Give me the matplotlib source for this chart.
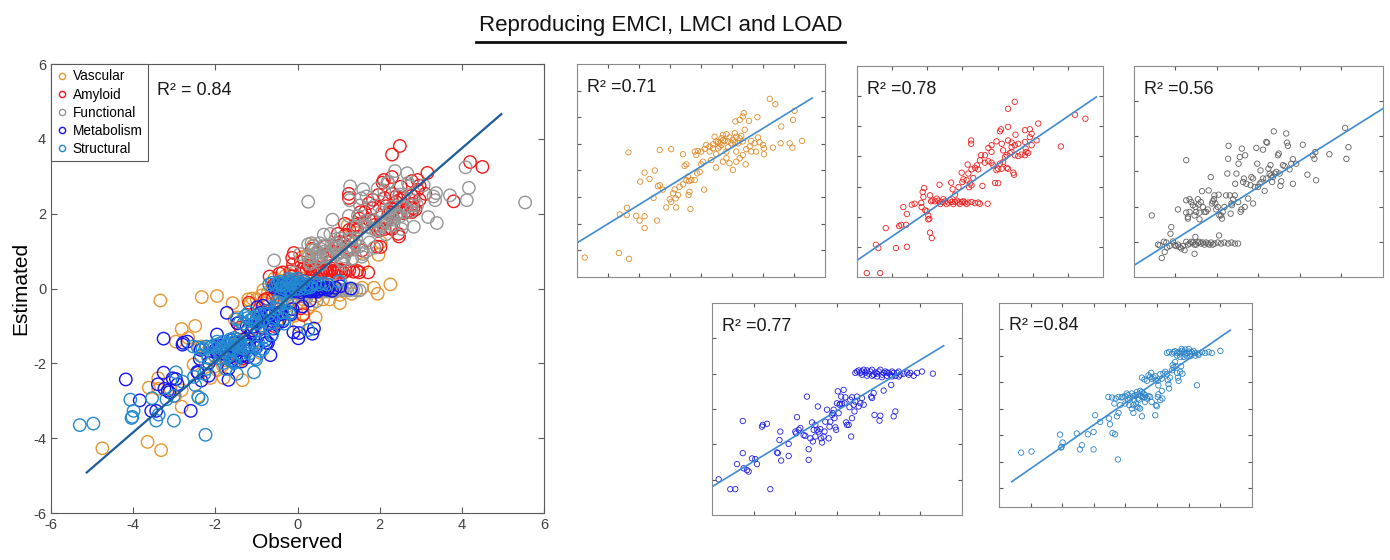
"""
Observed vs estimated biomarker values (EMCI, LMCI, LOAD):
pooled scatter on the left, one small panel per modality on the right.
"""

import numpy as np
import matplotlib.pyplot as plt
from matplotlib.lines import Line2D

plt.rcParams['font.family'] = ['Liberation Sans', 'DejaVu Sans']
plt.rcParams['axes.unicode_minus'] = False

# ---- data (observed, estimated) ----

vascular = np.array([
    (-4.75, -4.27), (-3.65, -4.10), (-3.32, -4.32), (-3.62, -2.65), (-3.39, -2.40), (-3.39, -2.68),
    (-3.09, -2.70), (-2.98, -2.88), (-2.82, -2.72), (-2.82, -3.16), (-2.42, -2.88), (-3.34, -0.32),
    (-2.96, -1.42), (-2.82, -1.08), (-2.66, -1.32), (-2.49, -1.00), (-2.39, -1.59), (-2.33, -1.55),
    (-2.53, -2.03), (-2.23, -1.72), (-2.12, -2.39), (-2.01, -2.08), (-1.96, -2.18), (-1.90, -1.86),
    (-1.85, -1.71), (-1.82, -2.05), (-1.80, -2.39), (-1.74, -1.92), (-1.69, -1.61), (-1.58, -1.52),
    (-1.34, -2.45), (-1.40, -1.92), (-1.37, -1.80), (-1.47, -1.36), (-1.42, -1.23), (-1.39, -1.40),
    (-1.31, -1.36), (-1.53, -0.83), (-1.47, -0.77), (-1.58, -0.39), (-1.96, -0.20), (-2.33, -0.23),
    (-1.20, -1.36), (-1.12, -1.11), (-1.04, -1.05), (-0.90, -1.72), (-0.99, -0.77), (-0.94, -0.67),
    (-1.15, -0.42), (-1.20, -0.29), (-1.10, -0.27), (-0.99, -0.29), (-0.88, -0.19), (-0.83, -0.04),
    (-0.72, -0.10), (-0.61, -0.02), (-0.51, 0.09), (-0.45, -0.17), (-0.40, 0.02), (-0.34, 0.21),
    (-0.29, 0.34), (-0.18, 0.36), (-0.24, 0.11), (-0.08, 0.24), (0.03, 0.15), (0.09, 0.06),
    (-0.72, -0.29), (-0.51, -0.39), (-0.67, -0.61), (-0.51, -0.89), (-0.29, -0.67), (-0.18, -0.54),
    (-0.08, -0.73), (0.03, -0.98), (0.14, -0.67), (0.25, -0.54), (0.14, -0.29), (0.35, -0.42),
    (0.44, -0.77), (0.46, -0.20), (0.57, -0.10), (0.62, 0.11), (0.73, 0.02), (0.78, -0.29),
    (0.84, 0.24), (0.89, 0.06), (1.00, -0.04), (1.03, -0.17), (0.14, 0.27), (0.25, 0.21),
    (0.35, 0.09), (0.41, 0.53), (0.11, 0.84), (0.25, 0.90), (0.35, 1.03), (0.38, 1.15),
    (0.55, 0.86), (0.82, 1.00), (1.22, 1.69), (1.40, 1.49), (1.59, 0.65), (2.02, 1.24),
    (1.97, 0.90), (1.57, 0.02), (1.32, -0.14), (1.86, 0.02), (1.95, -0.14), (2.26, 0.11),
    (1.03, -0.39), (0.62, -0.29), (-0.18, -0.29), (-0.56, 0.27), (-0.34, -0.04), (-0.45, 0.06),
    (-0.29, 0.15), (-0.13, 0.09), (-0.02, 0.02), (0.20, 0.02), (-0.61, -0.17), (-0.40, -0.10),
    (0.30, 0.30), (0.09, 0.40), (-0.13, -0.13),
])

amyloid = np.array([
    (-1.72, -1.87), (-1.34, -1.87), (-1.46, -0.93), (-1.39, -1.04), (-0.89, -1.04), (-0.58, -1.00),
    (-1.18, -0.38), (-0.80, -0.31), (-0.74, -0.27), (-0.60, -0.27), (-0.68, 0.32), (-0.58, 0.09),
    (-0.44, 0.40), (-0.36, 0.43), (-0.16, 0.32), (-0.17, 0.46), (-0.13, 0.82), (-0.09, 0.95),
    (-0.06, 0.21), (-0.01, 0.18), (0.03, 0.04), (0.06, -0.07), (0.03, -0.09), (0.08, -0.53),
    (0.13, -0.71), (-0.11, 0.65), (0.08, 0.71), (0.11, 0.51), (0.15, 0.54),
    (0.22, 0.51), (0.32, 0.53), (0.41, 0.49), (0.51, 0.51), (0.60, 0.47), (0.70, 0.49),
    (0.79, 0.49), (0.89, 0.47), (0.98, 0.49), (1.07, 0.47), (1.17, 0.47), (1.26, 0.49),
    (1.36, 0.45), (1.45, 0.47), (1.50, 0.43), (1.72, 0.43), (0.27, 0.60), (0.46, 0.58),
    (0.65, 0.55), (0.84, 0.53), (1.03, 0.51), (0.37, 0.42), (0.55, 0.42), (0.74, 0.42),
    (0.93, 0.42), (1.12, 0.42),
    (0.35, 1.06), (0.68, 1.13), (0.72, 0.91), (0.79, 0.73), (0.89, 0.98), (0.98, 1.46),
    (1.03, 1.24), (1.00, 1.15), (1.12, 1.21), (1.17, 1.43), (1.19, 0.98), (1.22, 1.10),
    (1.26, 1.04), (1.31, 1.28), (1.15, 1.73), (1.26, 1.57), (1.36, 1.62), (1.41, 1.70),
    (1.45, 1.57), (1.50, 1.87), (1.53, 2.04), (1.57, 1.02), (1.64, 1.79), (1.74, 1.84),
    (1.83, 1.79), (1.88, 1.70), (1.93, 1.12), (2.02, 1.11), (1.97, 1.54), (2.02, 1.59),
    (2.12, 1.59), (2.07, 1.76), (2.16, 1.81), (2.26, 1.62), (2.30, 1.59), (2.45, 1.46),
    (2.47, 1.39), (2.21, 1.98), (2.26, 2.04), (2.35, 2.11), (2.40, 2.15), (2.49, 2.04),
    (2.59, 2.01), (2.68, 2.06), (2.78, 2.04), (2.82, 2.15), (2.87, 2.11), (2.97, 2.37),
    (2.80, 2.26), (2.92, 2.64), (2.97, 2.75), (3.11, 2.53), (2.78, 2.48), (2.59, 2.42),
    (2.49, 2.37), (2.40, 2.46), (2.30, 2.53), (2.12, 2.42), (1.97, 2.50), (1.83, 2.37),
    (1.74, 2.28), (1.64, 2.04), (1.83, 2.15), (2.07, 2.83), (2.10, 2.90), (2.30, 2.98),
    (2.51, 2.72), (2.78, 2.87), (2.92, 2.90), (3.16, 3.09), (2.30, 3.58), (2.49, 3.81),
    (1.25, 2.53), (1.25, 2.42), (3.80, 2.33), (4.20, 3.38), (4.50, 3.25), (2.40, 2.31),
    (2.16, 2.20),
])

functional = np.array([
    (-0.57, 0.75), (-0.42, -0.08), (-0.38, -0.10), (-0.33, -0.46), (-0.28, 0.00), (-0.26, -0.29),
    (-0.22, -0.02), (-0.20, -0.16), (-0.14, -0.12), (-0.12, 0.23), (-0.10, 0.42), (-0.06, 0.01),
    (-0.02, -0.10), (0.02, -0.12), (0.06, -0.08), (0.10, -0.15), (0.14, -0.19), (0.18, -0.12),
    (0.22, -0.24), (0.26, 0.00), (0.30, -0.08), (0.34, -0.05), (0.38, 0.00), (0.42, -0.02),
    (0.46, -0.08), (0.46, -0.34), (0.48, 0.14), (0.50, -0.08), (0.54, -0.02), (0.58, 0.00),
    (0.62, -0.05), (0.66, -0.02), (0.70, -0.08), (0.74, -0.02), (0.78, -0.05), (0.82, -0.08),
    (0.86, -0.02), (0.90, -0.08), (0.94, -0.05), (1.02, -0.02), (1.05, 0.18), (1.10, -0.05),
    (1.18, -0.02), (1.27, -0.05), (1.35, -0.02), (1.43, -0.05), (1.51, -0.05),
    (0.06, 0.92), (0.26, 2.32), (0.26, 1.18), (0.26, 0.83), (0.30, 0.71), (0.30, 0.66),
    (0.34, 1.21), (0.34, 0.85), (0.38, 1.13), (0.42, 1.04), (0.46, 0.75), (0.48, 0.99),
    (0.50, 0.85), (0.54, 1.21), (0.56, 1.06), (0.58, 0.83), (0.58, 0.64), (0.61, 1.13),
    (0.64, 1.44), (0.66, 0.99), (0.70, 0.85), (0.74, 0.85), (0.78, 0.92), (0.80, 1.46),
    (0.85, 1.84), (0.88, 1.09), (0.90, 1.15), (0.93, 1.21), (0.94, 1.32), (0.96, 1.09),
    (0.98, 0.92), (1.02, 0.99), (1.04, 1.34), (1.06, 0.75), (1.10, 0.75), (1.12, 0.66),
    (1.14, 0.85), (1.18, 0.99), (1.22, 1.32), (1.25, 1.94), (1.27, 2.36), (1.28, 2.73),
    (1.31, 1.32), (1.33, 0.80), (1.35, 1.09), (1.36, 1.04), (1.39, 1.21), (1.43, 1.32),
    (1.44, 1.65), (1.47, 1.94), (1.51, 1.13), (1.52, 2.22), (1.55, 2.41), (1.57, 0.85),
    (1.59, 0.92), (1.60, 2.65), (1.63, 1.70), (1.65, 1.80), (1.67, 0.99), (1.68, 2.46),
    (1.71, 1.65), (1.75, 1.23), (1.81, 1.61), (1.83, 1.84), (1.87, 1.80), (1.87, 1.09),
    (1.91, 1.56), (1.95, 2.67), (1.97, 2.22), (1.99, 1.56), (2.03, 1.65), (2.05, 2.03),
    (2.07, 1.70), (2.11, 2.62), (2.11, 1.80), (2.15, 1.45), (2.19, 2.84), (2.19, 1.80),
    (2.21, 2.82), (2.24, 2.08), (2.27, 1.94), (2.29, 2.18), (2.31, 1.89), (2.33, 1.70),
    (2.35, 1.84), (2.37, 3.14), (2.39, 1.94), (2.43, 1.99), (2.47, 2.46), (2.49, 2.51),
    (2.51, 1.94), (2.53, 1.59), (2.55, 1.72), (2.59, 2.18), (2.63, 2.15), (2.67, 3.08),
    (2.69, 2.82), (2.71, 2.73), (2.75, 2.06), (2.79, 2.22), (2.83, 1.65), (2.83, 2.35),
    (2.91, 2.22), (3.07, 2.76), (3.18, 1.91), (3.31, 2.46), (3.35, 2.36), (3.37, 2.55),
    (3.39, 1.75), (3.71, 2.49), (4.09, 3.24), (4.12, 2.36), (4.17, 2.69), (5.54, 2.30),
])

metabolism = np.array([
    (-4.18, -2.43), (-3.84, -2.99), (-3.56, -3.27), (-3.44, -3.27), (-2.60, -3.27), (-3.40, -2.56),
    (-3.26, -1.34), (-3.26, -2.25), (-3.12, -2.77), (-3.24, -2.68), (-3.16, -2.73), (-3.04, -2.40),
    (-2.96, -2.42), (-2.92, -2.56), (-2.80, -1.50), (-2.78, -1.45), (-2.68, -1.42), (-2.44, -2.23),
    (-2.42, -2.25), (-2.38, -1.88), (-2.36, -1.64), (-2.34, -2.46), (-2.16, -1.99), (-2.16, -2.33),
    (-1.96, -1.23), (-2.00, -1.64), (-1.98, -1.69), (-1.88, -1.54), (-1.92, -1.59), (-1.80, -1.74),
    (-1.76, -1.76), (-1.72, -0.65), (-1.68, -2.14), (-1.68, -2.44), (-1.64, -1.83), (-1.60, -1.38),
    (-1.58, -1.92), (-1.56, -1.59), (-1.52, -1.78), (-1.52, -1.45), (-1.48, -1.59), (-1.46, -0.93),
    (-1.44, -1.64), (-1.40, -1.57), (-1.38, -1.83), (-1.36, -1.95), (-1.32, -1.78), (-1.30, -1.64),
    (-1.28, -1.36), (-1.24, -1.02), (-1.20, -1.83), (-1.18, -1.50), (-1.16, -1.36), (-1.12, -1.17),
    (-1.10, -1.12), (-1.08, -1.02), (-1.06, -1.26), (-1.04, -1.52), (-1.02, -1.59), (-1.00, -0.84),
    (-0.98, -0.50), (-0.96, -1.12), (-0.94, -0.88), (-0.92, -0.85), (-0.90, -0.65), (-0.88, -0.85),
    (-0.84, -0.46), (-0.82, -0.84), (-0.80, -0.67), (-0.78, -1.38), (-0.76, -1.45), (-0.72, -1.45),
    (-0.70, -0.95), (-0.68, -0.74), (-0.66, -1.78), (-0.64, -0.67), (-0.64, -1.26), (-0.60, -0.88),
    (-0.58, -1.07), (-0.56, -0.79), (-0.52, -0.65), (-0.48, -0.93), (-0.44, -0.84), (-0.40, -0.69),
    (-0.36, -0.88), (-0.18, -0.65), (-0.16, -0.69), (-0.12, -0.55), (-0.10, -1.17), (0.02, -1.33),
    (0.04, -1.19), (0.12, -0.48), (0.30, -0.32), (0.36, -1.21), (0.40, -1.07),
    (-0.56, 0.02), (-0.52, 0.06), (-0.48, 0.09), (-0.44, 0.02), (-0.40, 0.06), (-0.36, 0.11),
    (-0.32, 0.03), (-0.28, 0.09), (-0.24, 0.00), (-0.20, 0.06), (-0.16, 0.11), (-0.12, -0.03),
    (-0.08, 0.03), (-0.04, 0.00), (0.00, 0.06), (0.04, 0.11), (0.08, -0.03), (0.12, 0.02),
    (0.16, 0.06), (0.20, -0.06), (0.24, 0.02), (0.28, -0.03), (0.32, 0.06), (0.36, 0.02),
    (0.40, -0.06), (0.44, 0.02), (0.48, 0.06), (0.52, -0.03), (0.72, -0.03), (0.76, 0.02),
    (0.84, -0.06), (0.92, 0.02), (1.04, 0.06), (1.30, 0.00), (-0.40, -0.03), (-0.28, -0.06),
    (-0.16, -0.06), (-0.04, -0.08), (0.08, -0.10), (0.20, 0.03), (0.32, -0.08), (0.48, -0.08),
    (0.60, 0.00), (0.68, 0.03),
])

structural = np.array([
    (-5.30, -3.65), (-4.97, -3.61), (-4.07, -2.97), (-3.99, -3.27), (-4.02, -3.43), (-4.04, -3.46),
    (-3.54, -2.93), (-3.44, -3.53), (-3.38, -3.37), (-3.19, -2.96), (-3.01, -2.87), (-3.01, -3.53),
    (-2.96, -2.24), (-2.80, -2.49), (-2.52, -2.36), (-2.49, -2.58), (-2.41, -2.91), (-2.33, -2.96),
    (-2.27, -2.28), (-2.22, -2.15), (-2.24, -3.91), (-2.54, -1.55), (-2.43, -1.57), (-2.35, -1.80),
    (-2.31, -1.61), (-2.22, -1.55), (-2.17, -1.86), (-2.12, -1.57), (-2.09, -1.55), (-2.01, -1.52),
    (-1.96, -1.42), (-1.91, -1.48), (-1.88, -1.86), (-1.85, -1.61), (-1.80, -1.42), (-1.80, -1.99),
    (-1.75, -1.52), (-1.72, -1.67), (-1.69, -1.48), (-1.67, -1.80), (-1.64, -1.36), (-1.61, -1.61),
    (-1.59, -1.45), (-1.57, -1.65), (-1.54, -1.32), (-1.50, -1.52), (-1.48, -1.36), (-1.46, -1.55),
    (-1.43, -1.42), (-1.40, -1.57), (-1.38, -1.48), (-1.32, -1.61), (-1.38, -1.74), (-1.27, -1.52),
    (-1.22, -1.55), (-1.17, -1.74), (-1.06, -2.24), (-1.04, -1.86), (-1.01, -1.90), (-0.98, -1.55),
    (-0.96, -1.45), (-0.90, -1.67), (-0.85, -1.32), (-0.83, -1.61), (-1.48, -0.82), (-1.40, -0.89),
    (-1.32, -0.94), (-1.27, -0.73), (-1.22, -0.79), (-1.19, -0.64), (-1.17, -0.86), (-1.11, -0.82),
    (-1.06, -0.77), (-1.04, -0.92), (-0.98, -0.94), (-0.96, -1.11), (-0.90, -0.69), (-0.85, -0.86),
    (-0.80, -0.67), (-0.74, -0.60), (-0.69, -0.69), (-0.66, -0.92), (-0.64, -1.07), (-0.62, -1.23),
    (-0.59, -0.82), (-0.53, -0.54), (-0.51, -0.35), (-0.48, -0.44), (-0.43, -0.23), (-0.41, -0.39),
    (-0.37, -0.64), (-0.34, -0.82), (-0.32, -0.94), (-0.27, -0.60), (-0.24, -0.39), (-0.20, -0.67),
    (0.26, -1.11), (-1.75, -1.86), (-1.64, -1.92), (-1.59, -1.95), (-1.54, -1.99), (-1.48, -2.28),
    (-1.75, -2.15), (-1.91, -1.67), (-2.01, -1.80),
    (-0.69, 0.11), (-0.62, 0.15), (-0.53, 0.09), (-0.48, 0.14), (-0.43, 0.18), (-0.37, 0.11),
    (-0.32, 0.15), (-0.27, 0.09), (-0.22, 0.19), (-0.16, 0.14), (-0.11, 0.06), (-0.06, 0.11),
    (0.00, 0.16), (0.05, 0.09), (0.10, 0.14), (0.15, 0.19), (0.21, 0.11), (0.31, 0.09),
    (0.42, 0.14), (0.52, 0.11), (0.63, 0.14), (0.73, 0.11), (1.00, 0.19), (-0.27, -0.04),
    (-0.16, -0.04), (-0.06, -0.01), (0.05, -0.01), (-0.11, 0.24), (0.00, 0.26), (-0.22, 0.26),
    (-0.37, 0.01), (0.21, 0.01), (0.31, 0.03),
])

groups = [vascular, amyloid, functional, metabolism, structural]
group_names = ['Vascular', 'Amyloid', 'Functional', 'Metabolism', 'Structural']
r2_values = [0.71, 0.78, 0.56, 0.77, 0.84]
main_r2 = 0.84

# regression lines as drawn (slope, intercept, x start, x end)
main_fit = (0.949, -0.047, -5.13, 4.96)
panel_fits = [
    (0.717, -0.135, -5.0, 2.59),
    (0.796, 0.142, -2.0, 4.81),
    (0.743, 0.073, -1.0, 5.0),
    (0.718, -0.330, -4.0, 1.56),
    (0.828, -0.115, -5.60, 1.31),
]

# axis limits of the small panels
panel_xlims = [(-5, 3), (-2, 5), (-1, 5), (-4, 2), (-6, 2)]
panel_ylims = [(-5, 3), (-2, 5), (-1, 5), (-4, 2), (-5.7, 2)]

# ---- styling ----
colors = ['#E8952F', '#F21A1A', '#969696', '#1414F0', '#2389CF']
small_colors = ['#E08A28', '#F01E1E', '#5E5E5E', '#1E1EE6', '#2A82C8']
axis_grey = '#5A5A5A'
text_grey = '#404040'

panel_rects = [
    [0.4151, 0.5054, 0.1784, 0.3804],
    [0.6165, 0.5054, 0.1770, 0.3768],
    [0.8158, 0.5054, 0.1791, 0.3768],
    [0.5122, 0.0804, 0.1799, 0.3786],
    [0.7187, 0.0948, 0.1820, 0.3643],
]

fig = plt.figure(figsize=(13.9, 5.6), dpi=100)

# main pooled plot
ax = fig.add_axes([0.0367, 0.0839, 0.3547, 0.8018])
for data, name, c in zip(groups, group_names, colors):
    ax.scatter(data[:, 0], data[:, 1], s=80, facecolors='none', edgecolors=c,
               linewidths=1.0, label=name)

slope, icpt, x0, x1 = main_fit
xs = np.array([x0, x1])
ax.plot(xs, slope * xs + icpt, color='#1D5B9A', lw=1.6)

ax.set_xlim(-6, 6)
ax.set_ylim(-6, 6)
ax.set_xticks(np.arange(-6, 7, 2))
ax.set_yticks(np.arange(-6, 7, 2))
ax.tick_params(direction='in', top=True, right=True, length=4, labelsize=10.5,
               colors=text_grey, color=axis_grey)
for sp in ax.spines.values():
    sp.set_color(axis_grey)
ax.set_xlabel('Observed', fontsize=15, labelpad=1)
ax.set_ylabel('Estimated', fontsize=15, labelpad=2)
ax.text(0.215, 0.94, f'R² = {main_r2:.2f}', transform=ax.transAxes,
        fontsize=13, va='center', ha='left', color='#1A1A1A')

handles = [Line2D([], [], ls='none', marker='o', ms=4.5, mfc='none', mec=c, mew=1.0)
           for c in colors]
leg = ax.legend(handles, group_names, loc='upper left', borderaxespad=0,
                fontsize=9.8, handlelength=0.8, handletextpad=0.4, labelspacing=0.3,
                borderpad=0.4, fancybox=False, framealpha=1)
leg.get_frame().set_edgecolor(axis_grey)
leg.get_frame().set_linewidth(0.8)

# one small panel per modality
for i, data in enumerate(groups):
    pax = fig.add_axes(panel_rects[i])
    pax.scatter(data[:, 0], data[:, 1], s=15, facecolors='none',
                edgecolors=small_colors[i], linewidths=0.6)
    slope, icpt, x0, x1 = panel_fits[i]
    xs = np.array([x0, x1])
    pax.plot(xs, slope * xs + icpt, color='#3F8BD0', lw=1.2)
    xlo, xhi = panel_xlims[i]
    pax.set_xlim(xlo, xhi)
    pax.set_ylim(*panel_ylims[i])
    pax.set_xticks(np.arange(xlo + 1, xhi))
    pax.set_yticks(np.arange(np.ceil(panel_ylims[i][0] + 0.01), panel_ylims[i][1]))
    pax.tick_params(direction='in', top=True, right=True, length=3,
                    labelleft=False, labelbottom=False, color=axis_grey)
    for sp in pax.spines.values():
        sp.set_color('#8A8A8A')
    pax.text(0.04, 0.89, f'R² ={r2_values[i]:.2f}', transform=pax.transAxes,
             fontsize=13, va='center', ha='left', color='#1A1A1A')

# underlined title
title = fig.text(0.4755, 0.955, 'Reproducing EMCI, LMCI and LOAD', ha='center',
                 va='center', fontsize=16, color='#111111')
fig.canvas.draw()
bb = title.get_window_extent().transformed(fig.transFigure.inverted())
fig.add_artist(Line2D([bb.x0 - 0.002, bb.x1 + 0.002], [bb.y0 - 0.012, bb.y0 - 0.012],
                      transform=fig.transFigure, color='#111111', lw=2.0))

fig.savefig('out.png', dpi=100)
